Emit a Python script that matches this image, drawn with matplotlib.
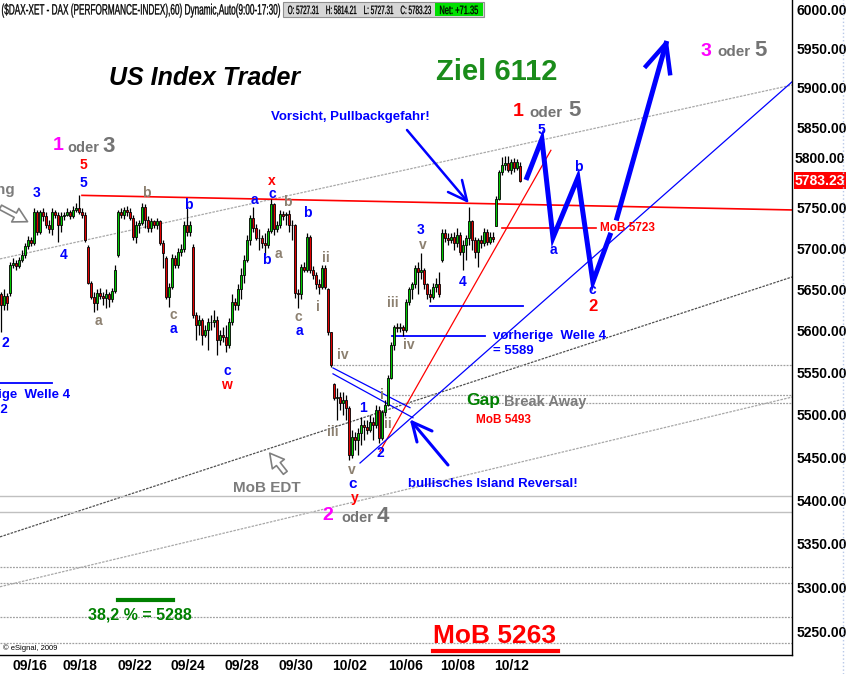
import matplotlib
matplotlib.use("Agg")
from matplotlib import pyplot as plt
from matplotlib import ticker, transforms
from matplotlib.patches import Rectangle, PathPatch
from matplotlib.lines import Line2D
from matplotlib.textpath import TextPath
from matplotlib.font_manager import FontProperties

plt.rcParams['font.family'] = ['Liberation Sans', 'DejaVu Sans']

opens = [5644, 5631, 5642, 5646, 5680, 5682, 5678, 5686, 5692, 5703,
         5710, 5707, 5744, 5720, 5744, 5740, 5729, 5723, 5744, 5741,
         5728, 5739, 5741, 5744, 5740, 5747, 5750, 5745, 5741, 5702,
         5658, 5641, 5634, 5646, 5642, 5640, 5644, 5638, 5648, 5692,
         5744, 5741, 5747, 5745, 5737, 5714, 5729, 5731, 5751, 5735,
         5725, 5733, 5729, 5733, 5707, 5688, 5641, 5653, 5688, 5680,
         5696, 5699, 5728, 5720, 5702, 5619, 5607, 5613, 5595, 5601,
         5610, 5611, 5613, 5589, 5595, 5593, 5583, 5611, 5635, 5631,
         5650, 5668, 5686, 5710, 5737, 5725, 5713, 5713, 5707, 5704,
         5721, 5754, 5723, 5729, 5742, 5741, 5742, 5729, 5728, 5646,
         5644, 5677, 5674, 5714, 5674, 5668, 5656, 5653, 5676, 5650,
         5598, 5536, 5520, 5521, 5514, 5518, 5508, 5453, 5474, 5471,
         5479, 5488, 5486, 5482, 5492, 5488, 5506, 5473, 5503, 5512,
         5544, 5583, 5605, 5603, 5605, 5601, 5635, 5650, 5657, 5676,
         5671, 5674, 5656, 5644, 5641, 5653, 5656, 5686, 5719, 5713,
         5710, 5714, 5707, 5716, 5696, 5704, 5713, 5733, 5710, 5696,
         5710, 5707, 5720, 5708, 5714, 5727.31, 5760, 5794, 5803, 5805,
         5797, 5807, 5799, 5802]
highs = [5647, 5650, 5646, 5683, 5688, 5686, 5689, 5698, 5707, 5715,
         5714, 5750, 5747, 5747, 5750, 5744, 5735, 5749, 5747, 5745,
         5744, 5745, 5750, 5747, 5752, 5755, 5765, 5750, 5744, 5704,
         5660, 5647, 5650, 5652, 5647, 5650, 5647, 5652, 5680, 5747,
         5750, 5751, 5752, 5750, 5741, 5733, 5735, 5755, 5754, 5740,
         5737, 5735, 5737, 5735, 5710, 5691, 5658, 5693, 5692, 5700,
         5705, 5733, 5756, 5733, 5705, 5623, 5619, 5616, 5607, 5616,
         5619, 5625, 5618, 5601, 5604, 5607, 5616, 5644, 5640, 5656,
         5676, 5692, 5716, 5741, 5751, 5730, 5723, 5716, 5719, 5725,
         5760, 5756, 5733, 5747, 5746, 5745, 5747, 5735, 5730, 5650,
         5681, 5683, 5719, 5716, 5678, 5671, 5662, 5680, 5680, 5652,
         5599, 5538, 5532, 5527, 5527, 5524, 5511, 5482, 5480, 5485,
         5497, 5494, 5494, 5500, 5497, 5512, 5510, 5506, 5518, 5547,
         5587, 5607, 5609, 5609, 5607, 5638, 5653, 5659, 5680, 5683,
         5694, 5676, 5658, 5650, 5658, 5664, 5671, 5723, 5723, 5719,
         5719, 5720, 5725, 5720, 5710, 5716, 5751, 5735, 5714, 5713,
         5716, 5725, 5723, 5720, 5720, 5764, 5797, 5812, 5814.21, 5814,
         5810, 5811, 5810, 5806]
lows = [5599, 5625, 5625, 5642, 5676, 5674, 5676, 5683, 5688, 5699,
        5703, 5704, 5716, 5718, 5733, 5725, 5719, 5716, 5737, 5708,
        5720, 5735, 5739, 5736, 5737, 5744, 5742, 5737, 5708, 5656,
        5638, 5623, 5625, 5638, 5631, 5628, 5629, 5635, 5646, 5689,
        5737, 5736, 5740, 5735, 5710, 5707, 5719, 5728, 5725, 5720,
        5720, 5725, 5723, 5704, 5676, 5638, 5629, 5650, 5676, 5676,
        5691, 5696, 5715, 5715, 5616, 5589, 5595, 5583, 5592, 5577,
        5601, 5605, 5571, 5583, 5587, 5575, 5580, 5607, 5625, 5625,
        5638, 5658, 5683, 5704, 5720, 5710, 5698, 5700, 5692, 5700,
        5719, 5716, 5720, 5725, 5735, 5729, 5720, 5710, 5640, 5628,
        5638, 5671, 5671, 5670, 5662, 5650, 5644, 5650, 5650, 5595,
        5557, 5518, 5494, 5506, 5500, 5494, 5447, 5449, 5459, 5453,
        5465, 5471, 5477, 5480, 5471, 5485, 5467, 5471, 5499, 5510,
        5542, 5577, 5599, 5598, 5594, 5599, 5631, 5638, 5652, 5644,
        5662, 5650, 5638, 5635, 5638, 5647, 5641, 5683, 5708, 5704,
        5707, 5698, 5702, 5692, 5674, 5686, 5704, 5698, 5688, 5677,
        5700, 5703, 5704, 5705, 5708, 5727.31, 5759, 5790, 5797, 5794,
        5792, 5794, 5797, 5781]
closes = [5631, 5642, 5634, 5680, 5682, 5678, 5686, 5692, 5703, 5710,
          5707, 5744, 5720, 5744, 5740, 5729, 5723, 5744, 5741, 5728,
          5739, 5741, 5744, 5740, 5747, 5750, 5745, 5741, 5710, 5658,
          5641, 5634, 5646, 5642, 5640, 5644, 5638, 5648, 5674, 5744,
          5741, 5747, 5745, 5737, 5714, 5729, 5731, 5751, 5735, 5725,
          5733, 5729, 5733, 5707, 5694, 5641, 5653, 5688, 5680, 5696,
          5699, 5728, 5720, 5729, 5619, 5607, 5613, 5595, 5601, 5610,
          5611, 5613, 5589, 5595, 5593, 5583, 5611, 5635, 5631, 5650,
          5668, 5686, 5710, 5737, 5725, 5713, 5712, 5707, 5704, 5721,
          5754, 5723, 5729, 5742, 5739, 5742, 5729, 5728, 5646, 5644,
          5677, 5674, 5714, 5674, 5668, 5656, 5653, 5676, 5653, 5598,
          5559, 5520, 5521, 5514, 5518, 5508, 5453, 5474, 5471, 5479,
          5488, 5486, 5482, 5492, 5488, 5506, 5473, 5503, 5512, 5544,
          5583, 5605, 5603, 5605, 5601, 5635, 5650, 5657, 5676, 5671,
          5674, 5656, 5644, 5641, 5653, 5656, 5644, 5719, 5713, 5710,
          5714, 5707, 5716, 5696, 5704, 5713, 5733, 5710, 5696, 5710,
          5707, 5720, 5708, 5714, 5711.88, 5760, 5794, 5803, 5805, 5797,
          5807, 5799, 5806, 5783.23]

date_labels = ["09/16", "09/18", "09/22", "09/24", "09/28", "09/30",
               "10/02", "10/06", "10/08", "10/12"]
date_bars = [9.7, 26.3, 44.7, 62.3, 80.3, 98.3, 116.3, 134.7, 152.3, 170.3]
price_ticks = [5250, 5300, 5350, 5400, 5450, 5500, 5550, 5600, 5650,
               5700, 5750, 5850, 5900, 5950, 6000]

hdr_open, hdr_high, hdr_low, hdr_close, hdr_net = 5727.31, 5814.21, 5727.31, 5783.23, 71.35

# Prognose-Pfad (Balken, Kurs)
proj_bar = [175.3, 180.3, 184.0, 192.3, 197.3, 203.0]
proj_val = [5787, 5835, 5713, 5787, 5659, 5716]
proj2_bar = [205.3, 221.7]
proj2_val = [5737, 5956]

W, H = 846, 674
AXW, AXH = 792, 655

fig = plt.figure(figsize=(W / 100, H / 100), dpi=100)
ax = fig.add_axes([0, 1 - AXH / H, AXW / W, AXH / H])
ax.set_yscale('log')
ax.set_xlim(-0.33, 263.67)
ax.set_ylim(5224, 6011.6)

blue = '#0000ff'
red = '#ff0000'
mag = '#ff00ff'
gbr = '#8c8070'
g2 = '#747474'


def axy(x, y):
    return x / AXW, 1 - y / AXH


def put(x, y, s, color, size, ha='center', weight='bold', **kw):
    ax.text(x / AXW, 1 - y / AXH, s, color=color, fontsize=size, ha=ha, va='center',
            fontweight=weight, transform=ax.transAxes, clip_on=True, **kw)


def pline(xs, ys, **kw):
    ax.plot([x / AXW for x in xs], [1 - y / AXH for y in ys], transform=ax.transAxes,
            solid_capstyle='round', **kw)


def squeeze(x0, x1, ybase, s, size, color='black'):
    # schmale Schrift nachbilden: Textpfad auf Breite stauchen
    p = TextPath((0, 0), s, size=size, prop=FontProperties(family='Liberation Sans'))
    ext = p.get_extents()
    sx = (x1 - x0) / ext.width
    t = transforms.Affine2D().translate(-ext.x0, 0).scale(sx, 1).translate(x0, H - ybase)
    fig.add_artist(PathPatch(p, transform=t, fc=color, ec=color, lw=0.2, zorder=5))


# Linien
ax.plot([-0.33, 263.67], [5687, 5903], color='#a8a8a8', lw=0.9, ls=(0, (2, 1)), zorder=1)
ax.plot([-0.33, 263.67], [5358, 5665], color='#505050', lw=0.9, ls=(0, (2, 1)), zorder=1)
ax.plot([-0.33, 263.67], [5301, 5521], color='#a8a8a8', lw=0.9, ls=(0, (2, 1)), zorder=1)
for lv in [5405, 5387]:
    ax.axhline(lv, color='#c0c0c0', lw=1, zorder=1)
for lv in [5324, 5305, 5267, 5237.5]:
    ax.axhline(lv, color='#a0a0a0', lw=0.9, ls=(0, (1.5, 1)), zorder=1)
ax.plot([110.67, 263.67], [5559, 5559], color='#a0a0a0', lw=0.9, ls=(0, (1.5, 1)), zorder=1)
ax.plot([130.33, 263.67], [5524, 5524], color='#a0a0a0', lw=0.9, ls=(0, (1.5, 1)), zorder=1)
ax.plot([130.33, 263.67], [5514, 5514], color='#a0a0a0', lw=0.9, ls=(0, (1.5, 1)), zorder=1)

ax.plot([27, 263.67], [5765, 5747], color=red, lw=1.2, zorder=2)
ax.plot([167, 198.3], [5725, 5725], color=red, lw=1.2, zorder=2)
ax.plot([126.3, 183.3], [5457, 5821], color=red, lw=0.9, zorder=2)
ax.plot([119.67, 263.67], [5443.5, 5907], color=blue, lw=0.9, zorder=2)
ax.plot([110.67, 136.33], [5555.6, 5508.5], color=blue, lw=0.9, zorder=2)
ax.plot([110.67, 137.33], [5548.6, 5496.6], color=blue, lw=0.9, zorder=2)
ax.plot([143, 174], [5630, 5630], color=blue, lw=1.3, zorder=2)
ax.plot([130.33, 161.33], [5594, 5594], color=blue, lw=1.3, zorder=2)
ax.plot([-0.33, 17], [5538, 5538], color=blue, lw=1.3, zorder=2)
ax.plot([39, 57.33], [5286, 5286], color='#008000', lw=3, zorder=2)
ax.plot([144, 185.67], [5229, 5229], color=red, lw=3, zorder=2)

# Kerzen
xs = list(range(len(closes)))
ax.vlines(xs, lows, highs, color='black', lw=0.9, zorder=3)
bot = [min(o, c) for o, c in zip(opens, closes)]
hgt = [max(abs(c - o), 0.6) for o, c in zip(opens, closes)]
cols = ['#00c800' if c >= o else '#e00000' for o, c in zip(opens, closes)]
ax.bar(xs, hgt, bottom=bot, width=0.9, color=cols, edgecolor='black', linewidth=0.6, zorder=4)

# Prognose
ax.plot(proj_bar, proj_val, color=blue, lw=3.6, zorder=5, solid_joinstyle='miter')
ax.plot(proj2_bar, proj2_val, color=blue, lw=3.6, zorder=5)
ax.plot([215, 221.7, 223], [5927, 5956, 5918], color=blue, lw=3.2, zorder=5)

# Pfeile
pline([407, 467], [130, 201], color=blue, lw=1.8, zorder=5)
pline([448, 467, 462], [192, 201, 180], color=blue, lw=1.8, zorder=5)
pline([448, 412], [465, 422], color=blue, lw=2.2, zorder=5)
pline([432, 412, 417], [431, 422, 442], color=blue, lw=2.2, zorder=5)
for tip, tail in [((30, 223), (-2, 206)), ((268, 451), (287, 475))]:
    ax.annotate('', xy=axy(*tip), xytext=axy(*tail), xycoords='axes fraction',
                arrowprops=dict(arrowstyle='simple,head_length=1.0,head_width=1.1,tail_width=0.35',
                                fc='white', ec='#808080', lw=1.2))

# Wellen-Beschriftung
labels = [
    (5, 343, "2", blue, 10), (37, 193, "3", blue, 10), (64, 255, "4", blue, 10),
    (83, 183, "5", blue, 10), (83, 165, "5", red, 10),
    (98, 321, "a", gbr, 10), (146, 193, "b", gbr, 10),
    (173, 315, "c", gbr, 10), (173, 329, "a", blue, 10), (188, 205, "b", blue, 10),
    (227, 371, "c", blue, 10), (226, 385, "w", red, 10),
    (254, 200, "a", blue, 10), (272, 181, "x", red, 10), (272, 194, "c", blue, 10),
    (287, 202, "b", gbr, 10), (266, 260, "b", blue, 10), (278, 254, "a", gbr, 10),
    (307, 213, "b", blue, 10), (298, 317, "c", gbr, 10), (299, 331, "a", blue, 10),
    (326, 258, "ii", gbr, 10), (318, 307, "i", gbr, 10), (343, 355, "iv", gbr, 10),
    (333, 432, "iii", gbr, 10), (363, 408, "1", blue, 10), (382, 395, "i", gbr, 10),
    (388, 424, "ii", gbr, 10), (380, 453, "2", blue, 10),
    (352, 470, "v", gbr, 10), (353, 484, "c", blue, 11), (355, 498, "y", red, 10),
    (393, 303, "iii", gbr, 10), (409, 345, "iv", gbr, 10),
    (421, 230, "3", blue, 10), (423, 245, "v", gbr, 10), (463, 282, "4", blue, 10),
    (541, 130, "5", blue, 10), (553, 250, "a", blue, 10), (578, 167, "b", blue, 10),
    (592, 290, "c", blue, 10), (593, 306, "2", red, 12),
]
for x, y, s, c, fs in labels:
    put(x, y, s, c, fs)

for x0, y0, a, ca in [(58, 145, "1", mag), (518, 112, "1", red), (706, 51, "3", mag), (328, 515, "2", mag)]:
    put(x0, y0, a, ca, 14)
put(83, 148, "oder", g2, 10.5)
put(109, 147, "3", g2, 16)
put(546, 113, "oder", g2, 11)
put(575, 110, "5", g2, 16)
put(734, 52, "oder", g2, 11)
put(761, 51, "5", g2, 16)
put(357, 518, "oder", g2, 10.5)
put(383, 516, "4", g2, 16)

put(205, 78, "US Index Trader", 'black', 18, style='italic')
put(497, 72, "Ziel 6112", '#1a8c1a', 21)
put(350, 117, "Vorsicht, Pullbackgefahr!", blue, 9.5)
put(493, 484, "bullisches Island Reversal!", blue, 9.5)
put(493, 336, "vorherige  Welle 4", blue, 9.5, ha='left')
put(493, 351, "= 5589", blue, 9.5, ha='left')
put(70, 395, "vorherige  Welle 4", blue, 9.5, ha='right')
put(8, 410, "= 5552", blue, 9.5, ha='right')
put(466, 400, "Gap", '#008000', 12.5, ha='left')
put(504, 402, "Break Away", '#7c7c7c', 10.5, ha='left')
put(503, 420, "MoB 5493", red, 8.5)
put(600, 228, "MoB 5723", red, 8.5, ha='left')
put(267, 488, "MoB EDT", '#7c7c7c', 11)
put(140, 615, "38,2 % = 5288", '#008000', 11.5)
put(495, 636, "MoB 5263", red, 19)
put(15, 190, "ng", '#7c7c7c', 11, ha='right')
put(3, 648, "\u00a9 eSignal, 2009", 'black', 5.5, ha='left', weight='normal')

# Achsen
ax.yaxis.tick_right()
ax.yaxis.set_minor_locator(ticker.NullLocator())
ax.yaxis.set_minor_formatter(ticker.NullFormatter())
ax.set_yticks(price_ticks, labels=["%.2f" % v for v in price_ticks],
              fontweight='bold', fontsize=10)
ax.set_xticks(date_bars, labels=date_labels, fontweight='bold', fontsize=10)
ax.tick_params(axis='y', length=0, pad=3)
ax.tick_params(axis='x', length=0, pad=3)
for sp in ['left', 'top']:
    ax.spines[sp].set_visible(False)
for sp in ['right', 'bottom']:
    ax.spines[sp].set_color('black')
    ax.spines[sp].set_linewidth(1)

tr = transforms.blended_transform_factory(ax.transAxes, ax.transData)
ax.text(1.0 + 3 / AXW, 5810, "5800.00", transform=tr, fontsize=10, fontweight='bold',
        va='center', ha='left')
ax.text(1.0 + 3 / AXW, hdr_close, "%.2f" % hdr_close, transform=tr, fontsize=10,
        fontweight='bold', va='center', ha='left', color='white',
        bbox=dict(boxstyle='square,pad=0.1', fc='#ff0000', ec='none'))

# Kopfzeile
fig.add_artist(Rectangle((283 / W, 1 - 17 / H), 201 / W, 15 / H, transform=fig.transFigure,
                         fc='#d6d6d6', ec='#909090', lw=0.8))
fig.add_artist(Rectangle((435 / W, 1 - 16 / H), 48 / W, 13 / H, transform=fig.transFigure,
                         fc='#00e000', ec='none'))
squeeze(2, 280, 14.5, "($DAX-XET - DAX (PERFORMANCE-INDEX),60) Dynamic,Auto(9:00-17:30)", 15)
squeeze(288, 431, 14, "O: %.2f    H: %.2f    L: %.2f    C: %.2f" % (hdr_open, hdr_high, hdr_low, hdr_close), 12)
squeeze(440, 478, 14, "Net: +%.2f" % hdr_net, 12)
fig.add_artist(Line2D([843 / W, 843 / W], [0, 1], transform=fig.transFigure,
                      color='#b8c8e8', lw=1, ls=':'))

fig.savefig('out.png', dpi=100)
